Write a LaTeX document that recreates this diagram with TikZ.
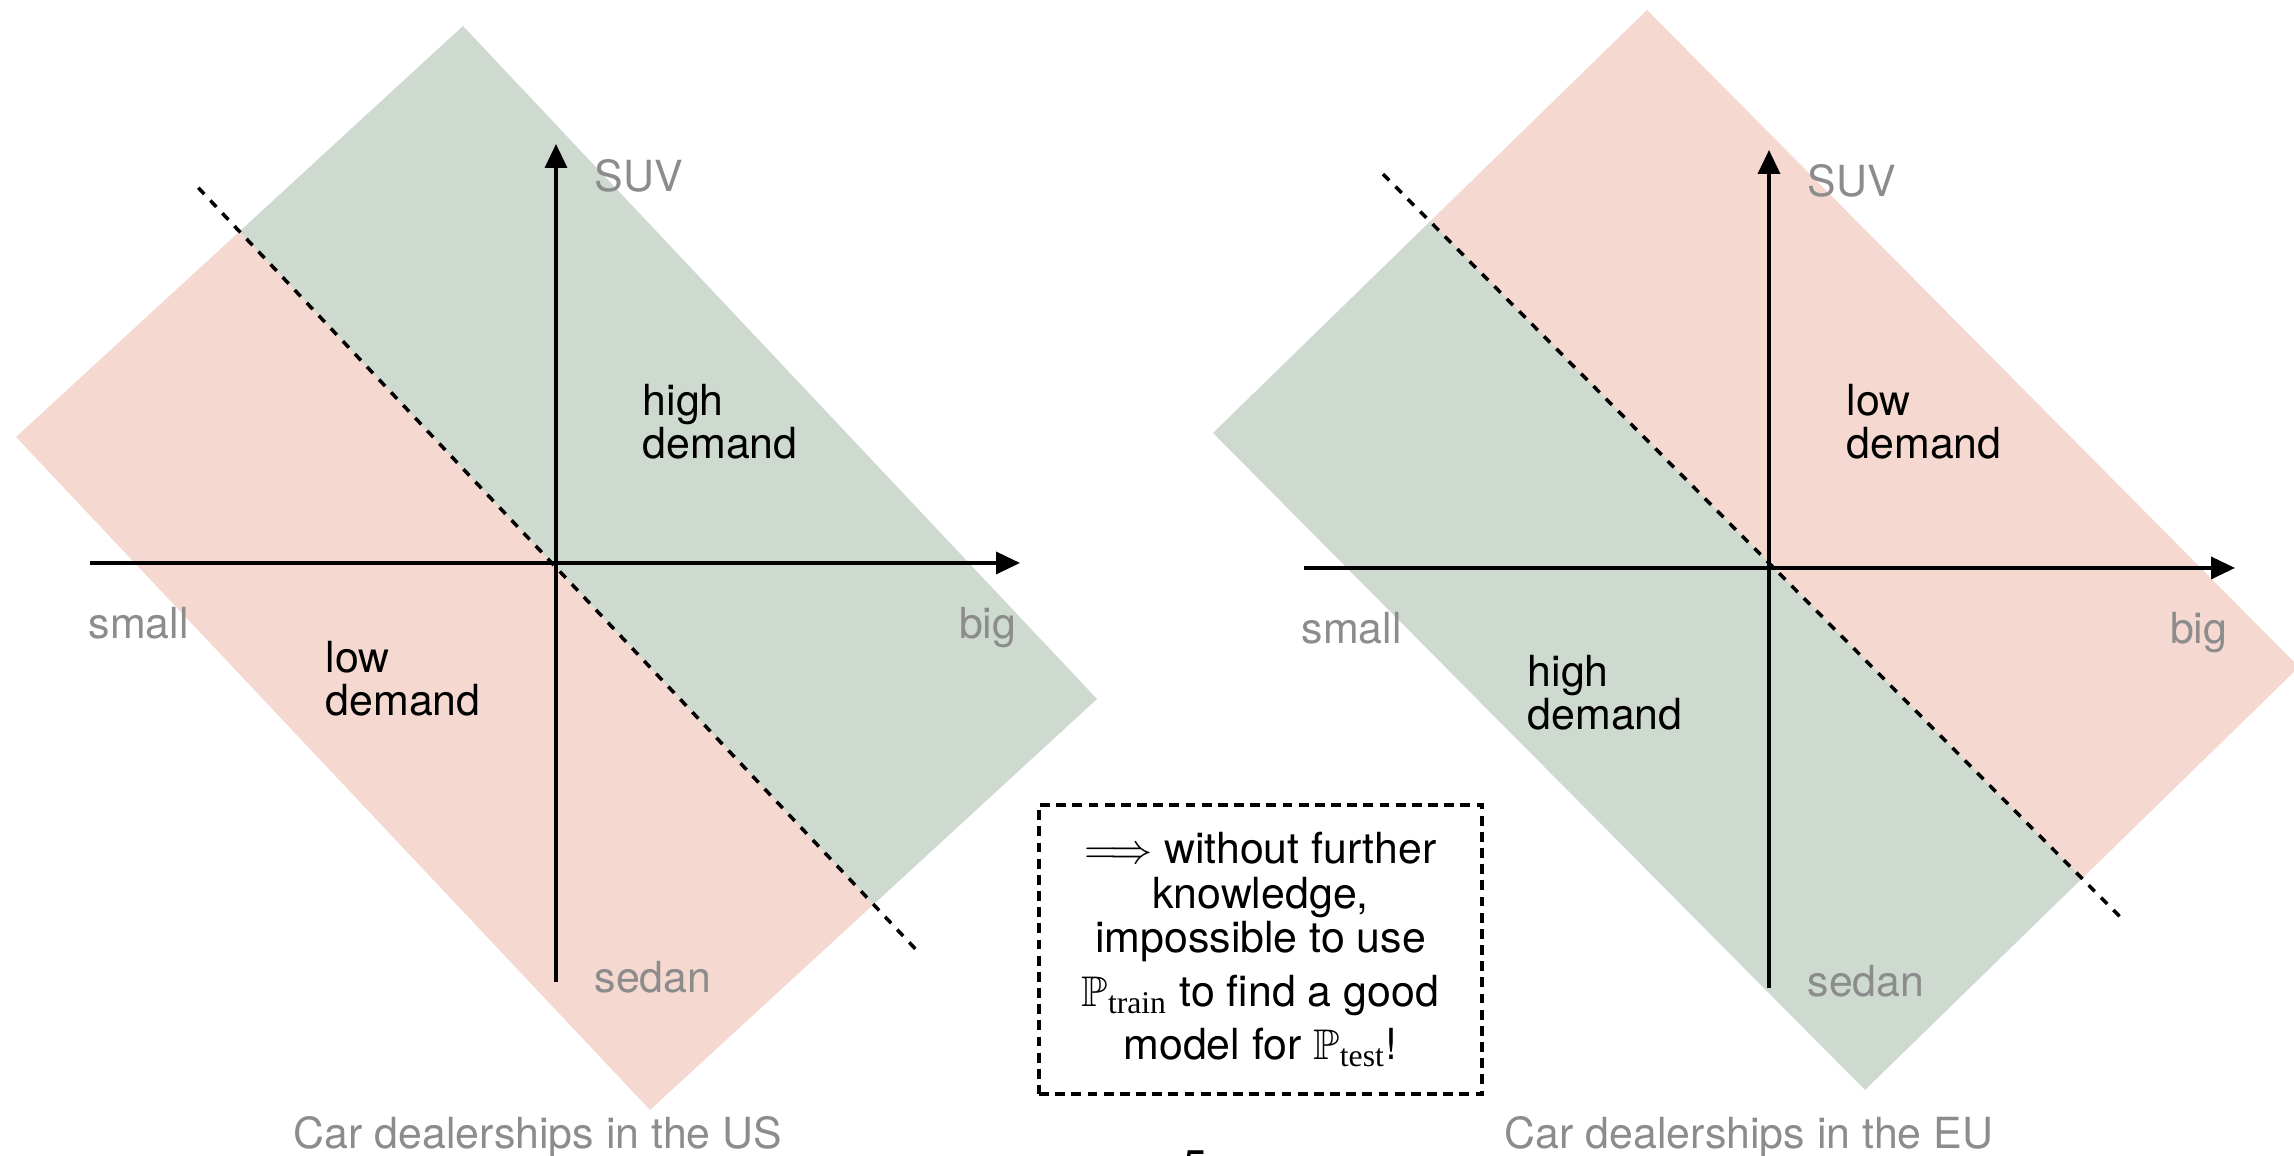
\documentclass[tikz,border=0pt]{standalone}
\usepackage{amsmath, amssymb}
\usepackage{fontspec}
\setsansfont{TeX Gyre Heros}
\newfontfamily\timesfont{Liberation Serif}
\usepackage{tikz}
\usetikzlibrary{arrows.meta, calc}

\definecolor{demandgreen}{RGB}{206,218,207}
\definecolor{demandpink}{RGB}{245,217,208}
\definecolor{labelgray}{RGB}{140,140,140}

\tikzset{
  axis/.style={line width=1pt, -{Triangle[length=2.4mm, width=2.2mm]}},
  border/.style={line width=1pt, dash pattern=on 2.5pt off 2.5pt},
  axislabel/.style={text=labelgray, inner sep=0pt},
  demand/.style={align=left, anchor=north west, inner sep=0pt},
}
\newcommand{\subtext}[1]{\text{\timesfont\fontsize{9}{9}\selectfont #1}}

\begin{document}
\begin{tikzpicture}[every node/.style={font=\sffamily\fontsize{12.2}{12}\selectfont}]
      \useasboundingbox (0, 0) rectangle (22.94, 11.56);

      % US: high demand for SUVs
      \coordinate (usT) at (4.63, 11.30);
      \coordinate (usL) at (0.16, 7.19);
      \coordinate (usB) at (6.50, 0.46);
      \coordinate (usR) at ($(usT) + (usB) - (usL)$);
      \coordinate (usM1) at ($(usL)!0.5!(usT)$);
      \coordinate (usM2) at ($(usB)!0.5!(usR)$);
      \fill[demandgreen] (usT) -- (usR) -- (usM2) -- (usM1) -- cycle;
      \fill[demandpink] (usM1) -- (usM2) -- (usB) -- (usL) -- cycle;
      \coordinate (usD1) at ($(usM1)!-0.065!(usM2)$);
      \coordinate (usD2) at ($(usM1)!1.07!(usM2)$);
      \draw[border] (usD1) -- (usD2);
      \coordinate (usW) at (0.90, 5.93);
      \coordinate (usE) at (10.20, 5.93);
      \coordinate (usS) at (5.56, 1.74);
      \coordinate (usN) at (5.56, 10.12);
      \draw[axis] (usW) -- (usE);
      \draw[axis] (usS) -- (usN);
      \node[axislabel, anchor=base west] (usSUV) at (5.94, 9.64) {SUV};
      \node[axislabel, anchor=base west] (usSmall) at (0.88, 5.17) {small};
      \node[axislabel, anchor=base east] (usBig) at (10.17, 5.17) {big};
      \node[axislabel, anchor=base west] (usSedan) at (5.94, 1.63) {sedan};
      \node[demand] (usHigh) at (6.42, 7.72) {high\\demand};
      \node[demand] (usLow) at (3.25, 5.15) {low\\demand};
      \node[axislabel, anchor=base] (usCaption) at (5.38, 0.07) {Car dealerships in the US};

      % EU: high demand for sedans
      \coordinate (euT) at (16.47, 11.46);
      \coordinate (euL) at (12.13, 7.23);
      \coordinate (euB) at (18.65, 0.66);
      \coordinate (euR) at ($(euT) + (euB) - (euL)$);
      \coordinate (euM1) at ($(euL)!0.5!(euT)$);
      \coordinate (euM2) at ($(euB)!0.5!(euR)$);
      \fill[demandpink] (euT) -- (euR) -- (euM2) -- (euM1) -- cycle;
      \fill[demandgreen] (euM1) -- (euM2) -- (euB) -- (euL) -- cycle;
      \coordinate (euD1) at ($(euM1)!-0.072!(euM2)$);
      \coordinate (euD2) at ($(euM1)!1.066!(euM2)$);
      \draw[border] (euD1) -- (euD2);
      \coordinate (euW) at (13.04, 5.88);
      \coordinate (euE) at (22.35, 5.88);
      \coordinate (euS) at (17.69, 1.68);
      \coordinate (euN) at (17.69, 10.06);
      \draw[axis] (euW) -- (euE);
      \draw[axis] (euS) -- (euN);
      \node[axislabel, anchor=base west] (euSUV) at (18.07, 9.59) {SUV};
      \node[axislabel, anchor=base west] (euSmall) at (13.01, 5.12) {small};
      \node[axislabel, anchor=base east] (euBig) at (22.28, 5.12) {big};
      \node[axislabel, anchor=base west] (euSedan) at (18.07, 1.59) {sedan};
      \node[demand] (euLow) at (18.46, 7.72) {low\\demand};
      \node[demand] (euHigh) at (15.27, 5.01) {high\\demand};
      \node[axislabel, anchor=base] (euCaption) at (17.49, 0.07) {Car dealerships in the EU};

      \node[draw, line width=1pt, dash pattern=on 2.8pt off 1.8pt, minimum width=4.43cm,
        minimum height=2.89cm, align=center, font=\sffamily\fontsize{12.2}{12.6}\selectfont]
        (note) at (12.605, 2.065) {$\Longrightarrow$ without further\\knowledge,\\impossible to use\\[0.1cm]
        $\mathbb{P}_{\subtext{train}}$ to find a good\\[0.09cm]model for $\mathbb{P}_{\subtext{test}}$!};
      \node[anchor=base] (page) at (11.95, -0.25) {5};
    \end{tikzpicture}
\end{document}
